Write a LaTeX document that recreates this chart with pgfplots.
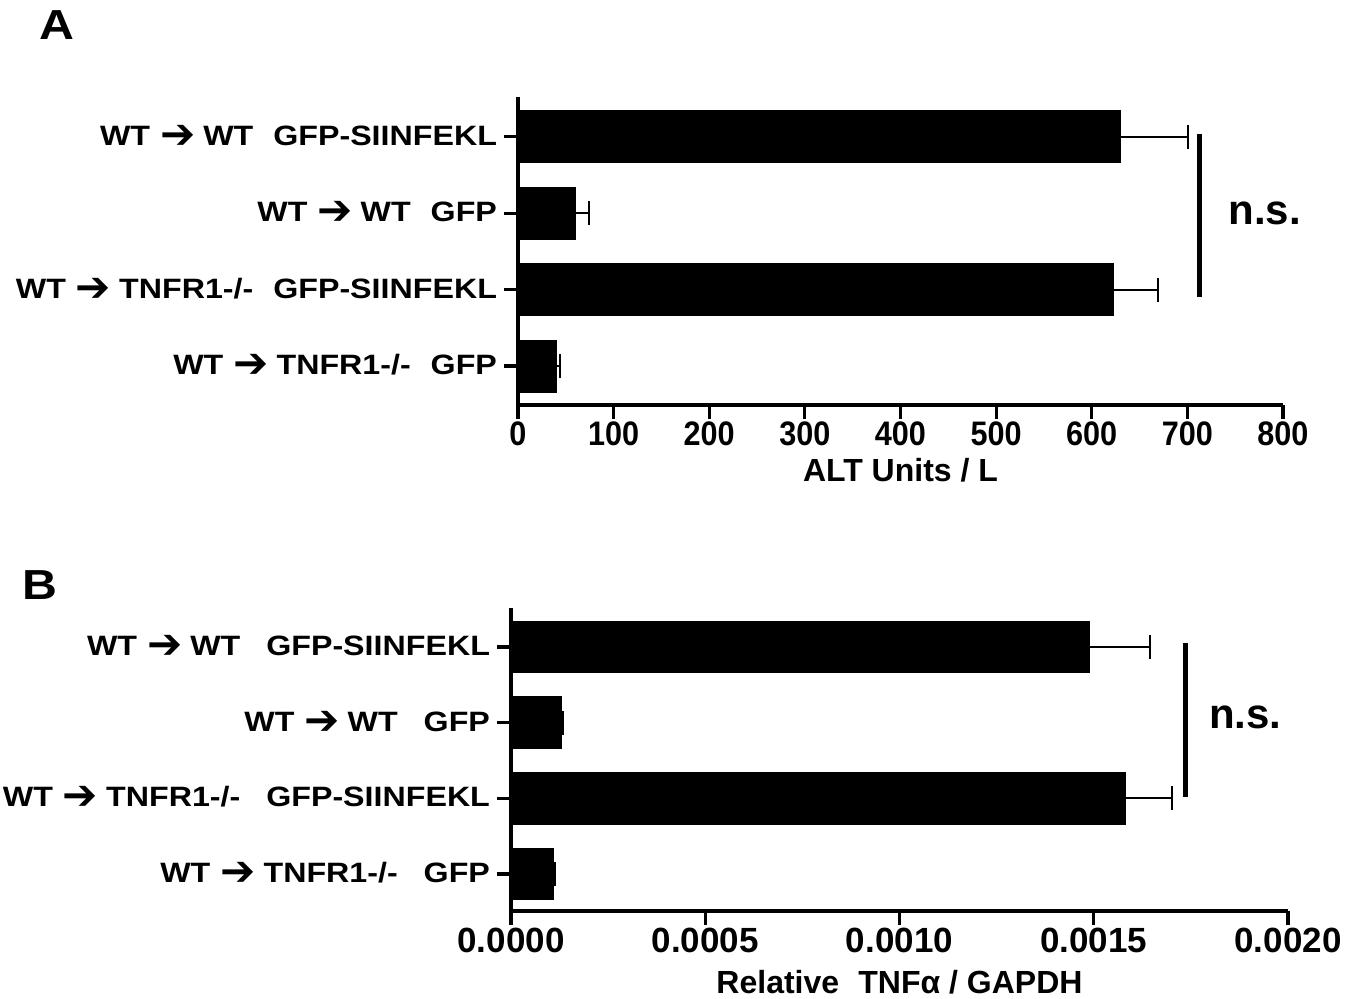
\documentclass[border=0pt]{standalone}
\usepackage{fontspec}
\setmainfont{Liberation Sans}
\newfontfamily\arrowfont{DejaVu Sans}
\newfontfamily\narrowfont[FakeStretch=0.9]{Liberation Sans}
\newfontfamily\widefont[FakeStretch=1.15]{Liberation Sans}
\usepackage{pgfplots}
\pgfplotsset{compat=1.18}
\newcommand{\arr}{\hspace{5pt}\raisebox{-1.5pt}{\arrowfont\bfseries\fontsize{21}{21}\selectfont ➔}\hspace{4pt}}

\pgfplotsset{panel/.style={
    scale only axis,
    axis x line*=bottom, axis y line*=left,
    axis line style={line width=2pt, -},
    xbar, bar width=0.68,
    y dir=reverse, ytick={0,1,2,3},
    tick style={line width=1.6pt, black},
    major tick length=7pt, tick align=outside,
    /pgf/number format/assume math mode=true,
    yticklabel style={font=\widefont\fontsize{14}{16}\selectfont\bfseries},
    xlabel style={font=\fontsize{16}{18}\selectfont\bfseries},
    clip=false,
    error bars/x dir=plus, error bars/x explicit,
    error bars/error bar style={line width=1pt},
    error bars/error mark options={line width=1pt, mark size=6pt, rotate=90},
}}

\begin{document}
\begin{tikzpicture}
\path[use as bounding box] (0,0) rectangle (678.5pt,499.5pt);
\node[font=\widefont\fontsize{21}{22}\selectfont\bfseries] at (28.5pt,487pt) {A};
\node[font=\widefont\fontsize{21}{22}\selectfont\bfseries] at (20pt,207pt) {B};

% panel A
\begin{axis}[panel,
    at={(259pt,297pt)}, anchor=south west,
    width=382.5pt, height=154pt,
    xmin=0, xmax=800, xtick={0,100,...,800},
    ymin=-0.52, ymax=3.51,
    xticklabel style={font=\narrowfont\fontsize{17}{18}\selectfont\bfseries, yshift=2pt},
    xlabel style={yshift=1pt},
    yticklabels={{WT\arr WT\hspace{10pt}GFP-SIINFEKL},
                 {WT\arr WT\hspace{10pt}GFP},
                 {WT\arr TNFR1-/-\hspace{10pt}GFP-SIINFEKL},
                 {WT\arr TNFR1-/-\hspace{10pt}GFP}},
    xlabel={ALT Units / L},
]
\addplot[fill=black, draw=black] coordinates {
    (630,0) +- (71,0)
    (60,1)  +- (14,0)
    (623,2) +- (46,0)
    (40,3)  +- (4,0)
};
\draw[line width=2.5pt] (axis cs:713,-0.03) -- (axis cs:713,2.1);
\node[font=\fontsize{21}{22}\selectfont\bfseries] at (axis cs:781,1.0) {n.s.};
\end{axis}

% panel B
\begin{axis}[panel,
    at={(255.5pt,44pt)}, anchor=south west,
    width=388.5pt, height=151.5pt,
    xmin=0, xmax=0.002, xtick={0,0.0005,0.001,0.0015,0.002},
    scaled x ticks=false,
    xticklabel style={font=\fontsize{17.5}{18}\selectfont\bfseries, yshift=2pt,
        /pgf/number format/.cd, fixed, fixed zerofill, precision=4},
    xlabel style={yshift=-2pt},
    ymin=-0.515, ymax=3.49,
    yticklabels={{WT\arr WT\hspace{13pt}GFP-SIINFEKL},
                 {WT\arr WT\hspace{13pt}GFP},
                 {WT\arr TNFR1-/-\hspace{13pt}GFP-SIINFEKL},
                 {WT\arr TNFR1-/-\hspace{13pt}GFP}},
    xlabel={Relative\hspace{0.6em}TNFα / GAPDH},
]
\addplot[fill=black, draw=black] coordinates {
    (0.001490,0) +- (0.000155,0)
    (0.000129,1) +- (0.000004,0)
    (0.001582,2) +- (0.000119,0)
    (0.000108,3) +- (0.000005,0)
};
\draw[line width=2.5pt] (axis cs:0.001735,-0.05) -- (axis cs:0.001735,1.98);
\node[font=\fontsize{21}{22}\selectfont\bfseries] at (axis cs:0.00189,0.93) {n.s.};
\end{axis}
\end{tikzpicture}
\end{document}
